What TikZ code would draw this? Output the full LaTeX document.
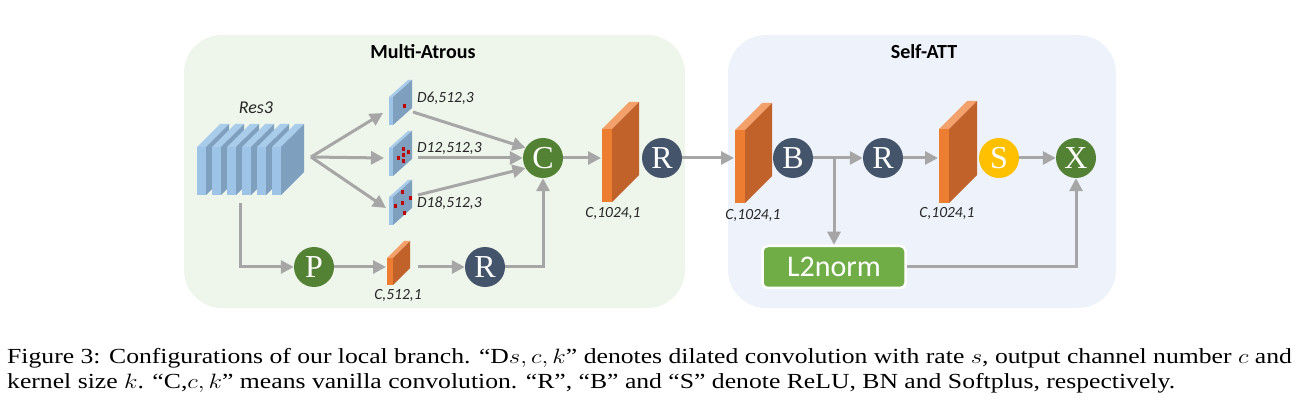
\documentclass[tikz,border=0pt]{standalone}
\usepackage{fontspec}
\setmainfont{Liberation Serif}
\newfontfamily\calibri{Carlito}
\usepackage{graphicx}
\usepackage{tikz}
\usetikzlibrary{arrows.meta}
\definecolor{panelgreen}{HTML}{EEF5EA}
\definecolor{panelblue}{HTML}{EEF2FA}
\definecolor{arrgray}{HTML}{A6A6A6}
\definecolor{cgreen}{HTML}{548235}
\definecolor{cblue}{HTML}{44546A}
\definecolor{cyellow}{HTML}{FFC000}
\definecolor{l2green}{HTML}{70AD47}
\definecolor{orgfront}{HTML}{ED7D31}
\definecolor{orgside}{HTML}{C0622A}
\definecolor{orgtop}{HTML}{F4A06A}
\definecolor{bluefront}{HTML}{9DC3E6}
\definecolor{blueside}{HTML}{7F9FBF}
\definecolor{bluetop}{HTML}{A9CCEB}
\definecolor{dotred}{HTML}{C00000}

\begin{document}
\begin{tikzpicture}[x=1pt, y=-1pt,
  lbl/.style={font=\calibri\itshape\fontsize{15.5}{15.5}\selectfont, text=black!85, inner sep=0pt},
  ttl/.style={font=\calibri\bfseries\fontsize{20}{20}\selectfont, inner sep=0pt},
  cir/.style={circle, minimum size=40pt, inner sep=0pt, text=white, font=\fontsize{32}{32}\selectfont},
  arr/.style={draw=arrgray, line width=3pt, -{Triangle[length=13pt,width=13pt]}},
  captxt/.style={font=\fontsize{21.5}{26}\selectfont, inner sep=0pt, anchor=base west}]
\useasboundingbox (0,0) rectangle (1297,411);

%panels
\fill[panelgreen, rounded corners=38pt] (184,35) rectangle (685,308);
\fill[panelblue, rounded corners=38pt] (728,35) rectangle (1116,308);
\node[ttl] (ma) at (423,52) {Multi-Atrous};
\node[ttl] (sa) at (924,52) {Self-ATT};

%res3 slabs
\foreach \i in {0,...,5}{
  \fill[bluetop] ({197+15*\i},147) -- ++(23,-23) -- ++(9,0) -- ++(-23,23) -- cycle;
  \fill[blueside] ({206+15*\i},147) -- ++(23,-23) -- ++(0,48) -- ++(-23,23) -- cycle;
  \fill[bluefront] ({197+15*\i},147) rectangle ++(9,48);
}
\node[lbl, font=\calibri\itshape\fontsize{18}{18}\selectfont] (res3) at (256,108) {Res3};

%dilated maps
\foreach \y in {97,148,197}{
  \fill[bluetop] (389,\y) -- ++(19,-17) -- ++(4,0) -- ++(-19,17) -- cycle;
  \fill[blueside] (393,\y) -- ++(19,-17) -- ++(0,28) -- ++(-19,17) -- cycle;
  \fill[bluefront] (389,\y) rectangle ++(4,28);
}
\fill[dotred] (402.5,104) rectangle ++(3,4);
\foreach \dx/\dy in {0/0, 0/-6, 0/6, -5/3, 5/-3}
  \fill[dotred] ({401.5+\dx},{153+\dy}) rectangle ++(3,4);
\foreach \dx/\dy in {0/0, 0/-11, 2/10, -7/3, 8/-5}
  \fill[dotred] ({400.5+\dx},{201+\dy}) rectangle ++(3,4);
\node[lbl, anchor=west] (d6) at (417,98) {D6,512,3};
\node[lbl, anchor=west] (d12) at (417,148) {D12,512,3};
\node[lbl, anchor=west] (d18) at (417,203) {D18,512,3};

%conv blocks
\foreach \x/\y/\w/\h/\d in {602/129/10/73/27, 735/130/10/73/27, 939/129/10/74/28, 387/258/6/27/17}{
  \fill[orgtop] (\x,\y) -- ++(\d,-\d) -- ++(\w,0) -- ++(-\d,\d) -- cycle;
  \fill[orgside] ({\x+\w},\y) -- ++(\d,-\d) -- ++(0,\h) -- ++(-\d,\d) -- cycle;
  \fill[orgfront] (\x,\y) rectangle ++(\w,\h);
}
\node[lbl] (cv1) at (613,213) {C,1024,1};
\node[lbl] (cv2) at (753,215) {C,1024,1};
\node[lbl] (cv3) at (947,213) {C,1024,1};
\node[lbl] (cv4) at (398,295) {C,512,1};

%circles
\node[cir, fill=cgreen] (c) at (543,158) {C};
\node[cir, fill=cblue] (r1) at (662,158) {R};
\node[cir, fill=cgreen] (p) at (314,267) {P};
\node[cir, fill=cblue] (r3) at (485,267) {R};
\node[cir, fill=cblue] (b) at (793,158) {B};
\node[cir, fill=cblue] (r2) at (883,158) {R};
\node[cir, fill=cyellow] (s) at (999,158) {S};
\node[cir, fill=cgreen] (x) at (1076,158) {X};
\node[draw=white, line width=2.5pt, fill=l2green, rounded corners=5pt, minimum width=143pt,
  minimum height=42pt, text=white, font=\calibri\fontsize{30}{30}\selectfont] (l2) at (834,267) {L2norm};

%arrow ends
\coordinate (resout) at (311,157);
\coordinate (resdown) at (240,203);
\coordinate (d6in) at (383,113);
\coordinate (d12in) at (384,158);
\coordinate (d18in) at (386,208);
\coordinate (d6out) at (413,112);
\coordinate (d12out) at (418,158);
\coordinate (d18out) at (418,195);
\coordinate (cv1in) at (601,158);
\coordinate (cv2in) at (734,158);
\coordinate (cv3in) at (938,158);
\coordinate (cv4in) at (386,267);
\coordinate (cv4out) at (418,267);

%arrows
\draw[arr] (resout) -- (d6in);
\draw[arr] (resout) -- (d12in);
\draw[arr] (resout) -- (d18in);
\draw[arr] (d6out) -- (c.150);
\draw[arr] (d12out) -- (c.west);
\draw[arr] (d18out) -- (c.210);
\draw[arr] (resdown) |- (p.west);
\draw[arr] (p.east) -- (cv4in);
\draw[arr] (cv4out) -- (r3.west);
\draw[arr] (r3.east) -| (c.south);
\draw[arr] (c.east) -- (cv1in);
\draw[arr] (r1.east) -- (cv2in);
\draw[arr] (b.east) -- (r2.west);
\draw[arr] (l2.north |- b.east) -- (l2.north);
\draw[arr] (r2.east) -- (cv3in);
\draw[arr] (s.east) -- (x.west);
\draw[arr] (l2.east) -| (x.south);

%caption
\node[captxt] (cap1) at (7,363) {\scalebox{1.194}[1]{\makebox[1076pt][s]{Figure 3: Configurations of our local branch. ``D$s, c, k$'' denotes dilated convolution with rate $s$, output channel number $c$ and}}};
\node[captxt] (cap2) at (7,388) {\scalebox{1.194}[1]{kernel size $k$. ``C,$c, k$'' means vanilla convolution. ``R'', ``B'' and ``S'' denote ReLU, BN and Softplus, respectively.}};
\end{tikzpicture}
\end{document}
